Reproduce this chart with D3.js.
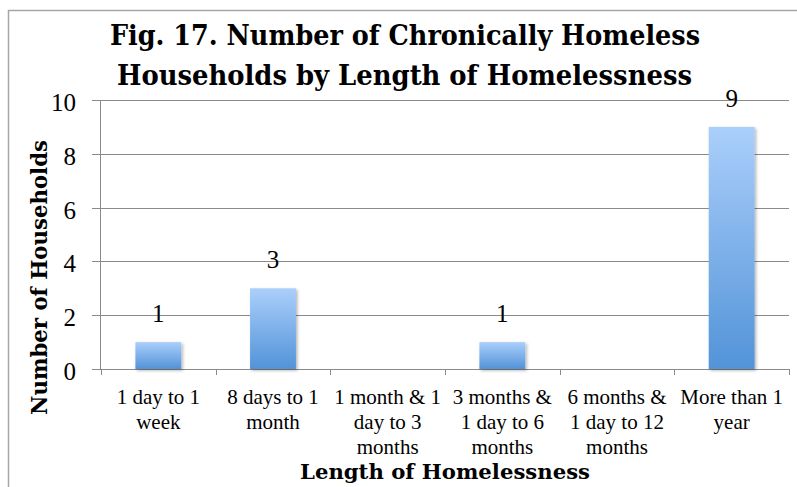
<!DOCTYPE html>
<html><head><meta charset="utf-8">
<script src="https://cdn.jsdelivr.net/npm/d3@7"></script>
<style>html,body{margin:0;padding:0;background:#fff;}svg{display:block;}</style>
</head><body>
<script>
const categories = ["1 day to 1 week","8 days to 1 month","1 month & 1 day to 3 months","3 months & 1 day to 6 months","6 months & 1 day to 12 months","More than 1 year"];
const values = [1,3,null,1,null,9];
const yTicks = [0,2,4,6,8,10];
const titleLines = ["Fig. 17. Number of Chronically Homeless","Households by Length of Homelessness"];
const xTitle = "Length of Homelessness";
const yTitle = "Number of Households";

const W=797,H=487;
const svg=d3.select("body").append("svg").attr("width",W).attr("height",H);
const defs=svg.append("defs");
const grad=defs.append("linearGradient").attr("id","bg").attr("x1",0).attr("y1",0).attr("x2",0).attr("y2",1);
grad.append("stop").attr("offset","0%").attr("stop-color","#abcffb");
grad.append("stop").attr("offset","100%").attr("stop-color","#5293d8");
const f=defs.append("filter").attr("id","sh").attr("x","-20%").attr("y","-20%").attr("width","150%").attr("height","150%");
f.append("feDropShadow").attr("dx",1.5).attr("dy",1.5).attr("stdDeviation",1.5).attr("flood-color","#000").attr("flood-opacity",0.3);

svg.append("rect").attr("x",8.5).attr("y",10.5).attr("width",W).attr("height",H).attr("fill","#fff").attr("stroke","#a6a6a6").attr("stroke-width",1.5);

const serif="'Liberation Serif','Times New Roman',serif";
const bold="'DejaVu Serif',serif";

const x=d3.scaleBand().domain(categories).range([101,789]).paddingInner(0.6).paddingOuter(0.3);
const y=d3.scaleLinear().domain([0,10]).range([369,100]);

// gridlines + y axis
const ya=svg.append("g").attr("transform","translate(100,0)")
  .call(d3.axisLeft(y).tickValues(yTicks).tickSize(-689).tickSizeOuter(0).tickPadding(0).tickFormat(""));
ya.select(".domain").remove();
ya.selectAll(".tick line").attr("stroke","#8a8a8a").attr("x1",-8).attr("shape-rendering","crispEdges");
svg.append("line").attr("x1",100).attr("x2",100).attr("y1",100).attr("y2",369).attr("stroke","#8a8a8a").attr("shape-rendering","crispEdges");
svg.append("g").selectAll("text").data(yTicks).join("text")
  .attr("x",76).attr("y",d=>y(d)+11).attr("text-anchor","end")
  .attr("font-family",serif).attr("font-size",25).attr("fill","#000").text(d=>d);

// x axis
svg.append("line").attr("x1",100).attr("x2",789).attr("y1",369).attr("y2",369).attr("stroke","#8a8a8a").attr("shape-rendering","crispEdges");
const bounds=categories.map(c=>x(c)-x.step()*x.paddingInner()/2).concat([789]);
svg.append("g").selectAll("line").data(bounds).join("line")
  .attr("x1",d=>Math.round(d)+0.5).attr("x2",d=>Math.round(d)+0.5).attr("y1",369).attr("y2",375)
  .attr("stroke","#8a8a8a");

// bars
const data=categories.map((c,i)=>({c,v:values[i]})).filter(d=>d.v!=null&&d.v>0);
svg.append("g").selectAll("rect").data(data).join("rect")
  .attr("x",d=>x(d.c)).attr("width",x.bandwidth())
  .attr("y",d=>y(d.v)).attr("height",d=>y(0)-y(d.v))
  .attr("fill","url(#bg)").attr("filter","url(#sh)");
svg.append("g").selectAll("text").data(data).join("text")
  .attr("x",d=>x(d.c)+x.bandwidth()/2).attr("y",d=>y(d.v)-20).attr("text-anchor","middle")
  .attr("font-family",serif).attr("font-size",25).text(d=>d.v);

// category labels with wrapping
const cg=svg.append("g");
categories.forEach(c=>{
  const cx=x(c)+x.bandwidth()/2;
  const words=c.split(" ");
  const lines=[];let cur="";
  const t=cg.append("text").attr("font-family",serif).attr("font-size",21);
  words.forEach(w=>{
    const test=cur?cur+" "+w:w;
    t.text(test);
    if(t.node().getComputedTextLength()>112&&cur){lines.push(cur);cur=w;}else cur=test;
  });
  lines.push(cur);
  t.remove();
  lines.forEach((l,i)=>{
    cg.append("text").attr("x",cx).attr("y",404+i*25).attr("text-anchor","middle")
      .attr("font-family",serif).attr("font-size",21).text(l);
  });
});

function fit(sel,w){sel.attr("textLength",w).attr("lengthAdjust","spacingAndGlyphs");return sel;}
// title
fit(svg.append("text").attr("x",405).attr("y",45).attr("text-anchor","middle").attr("font-family",bold).attr("font-weight","bold").attr("font-size",27.5).text(titleLines[0]),590);
fit(svg.append("text").attr("x",404.5).attr("y",84.5).attr("text-anchor","middle").attr("font-family",bold).attr("font-weight","bold").attr("font-size",27.5).text(titleLines[1]),575);
// axis titles
fit(svg.append("text").attr("x",445).attr("y",478.5).attr("text-anchor","middle").attr("font-family",bold).attr("font-weight","bold").attr("font-size",20.5).text(xTitle),290);
fit(svg.append("text").attr("transform","translate(47,277.5) rotate(-90)").attr("text-anchor","middle").attr("font-family",bold).attr("font-weight","bold").attr("font-size",21.5).text(yTitle),275);
</script>
</body></html>
